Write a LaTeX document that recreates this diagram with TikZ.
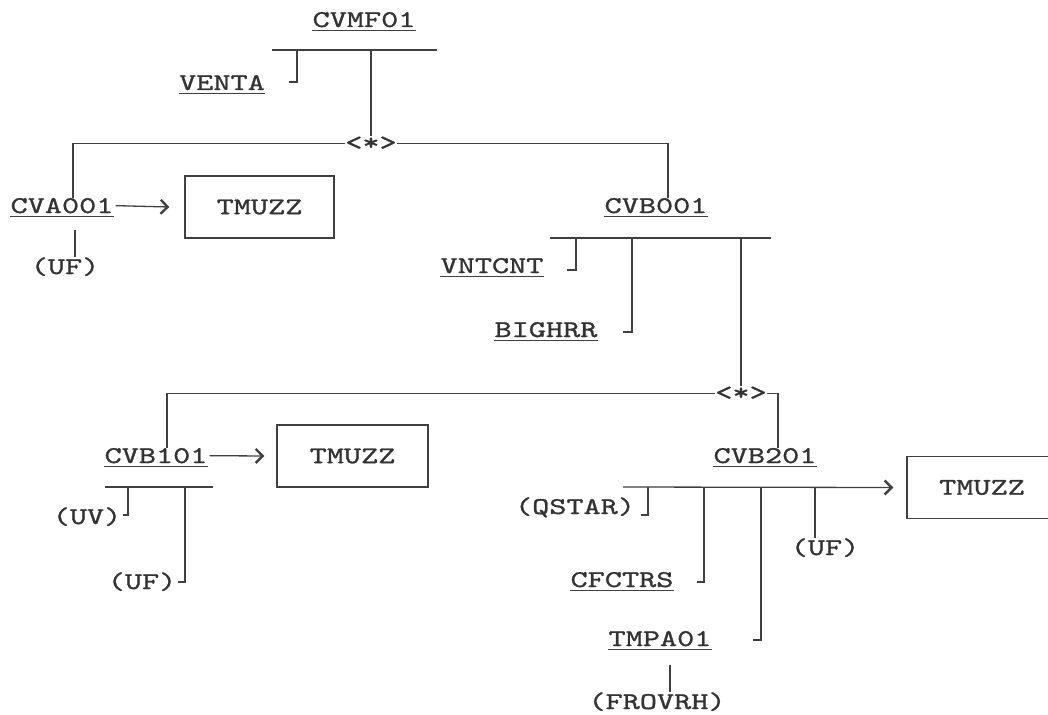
\documentclass[tikz,border=0pt]{standalone}
\usepackage{fontspec}
\newfontfamily\dotmono{lmmono10-regular.otf}[FakeStretch=1.36,FakeBold=1.1]
\usetikzlibrary{arrows.meta}
\newcommand\ulab[1]{\draw[ln] ([yshift=-3.5pt]#1.base west) -- ([yshift=-3.5pt]#1.base east);}
\begin{document}
\begin{tikzpicture}[x=1pt,y=-1pt,
  lbl/.style={inner sep=0pt, anchor=base, text=black!80, font=\dotmono\fontsize{24}{28}\selectfont},
  ln/.style={draw=black!75, line width=1.3pt},
  arr/.style={ln, -{Straight Barb[length=7pt,width=14pt,line width=2.4pt]}},
  tbox/.style={draw=black!75, line width=1.3pt, minimum height=62pt, inner sep=0pt, text=black!80, font=\dotmono\fontsize{24}{28}\selectfont}
]
\useasboundingbox (0,0) rectangle (1048,714);
\clip (0,0) rectangle (1048,714);

% labels
\node[lbl] (cvmf) at (364,27) {CVMF01};
\node[lbl] (venta) at (222,90) {VENTA};
\node[lbl] (s1) at (371,150) {<*>};
\node[lbl] (cva) at (62,213) {CVA001};
\node[tbox, minimum width=149pt] (box1) at (259.5,207) {TMUZZ};
\node[lbl] (uf1) at (65,274) {(UF)};
\node[lbl] (cvb0) at (656,213) {CVB001};
\node[lbl] (vnt) at (492,273) {VNTCNT};
\node[lbl] (big) at (546,337) {BIGHRR};
\node[lbl] (s2) at (741,400) {<*>};
\node[lbl] (cvb1) at (156,463) {CVB101};
\node[tbox, minimum width=151pt] (box2) at (352.5,456) {TMUZZ};
\node[lbl] (uv) at (87,524) {(UV)};
\node[lbl] (uf2) at (142,589) {(UF)};
\node[lbl] (cvb2) at (765,463) {CVB201};
\node[tbox, minimum width=150pt] (box3) at (982,487.5) {TMUZZ};
\node[lbl] (qs) at (575,514) {(QSTAR)};
\node[lbl] (uf3) at (825,555) {(UF)};
\node[lbl] (cfc) at (622,587) {CFCTRS};
\node[lbl] (tmpa) at (660,646) {TMPA01};
\node[lbl] (frov) at (657,709) {(FROVRH)};

\foreach \n in {cvmf,venta,cva,cvb0,vnt,big,cvb1,cvb2,cfc,tmpa} {\ulab{\n}}

% coordinates
\coordinate (b1l) at (272,50); \coordinate (b1r) at (437,50);
\coordinate (j1) at (297,50); \coordinate (h1) at (289,82);
\coordinate (j2) at (371,50);
\coordinate (b2l) at (550,238); \coordinate (b2r) at (771,238);
\coordinate (j3) at (576,238); \coordinate (h3) at (567,270);
\coordinate (j4) at (632,238); \coordinate (h4) at (623,332);
\coordinate (j5) at (741,238);
\coordinate (b3l) at (105,487); \coordinate (b3r) at (213,487);
\coordinate (j6) at (128,487); \coordinate (h6) at (123,515);
\coordinate (j7) at (185,487); \coordinate (h7) at (178,582);
\coordinate (b4l) at (623,487);
\coordinate (j8) at (648,487); \coordinate (h8) at (641,515);
\coordinate (j9) at (704,487); \coordinate (h9) at (697,582);
\coordinate (j10) at (761,487); \coordinate (h10) at (753,640);
\coordinate (j11) at (815,487);

% CVMF01 structure
\draw[ln] (b1l) -- (b1r);
\draw[ln] (j1) |- (h1);
\draw[ln] (j2) -- (s1.north);
\draw[ln] (s1.west) -| ([xshift=11pt]cva.north);
\draw[ln] (s1.east) -| ([xshift=12pt]cvb0.north);
\draw[arr] ([xshift=2pt]cva.east) -- ([xshift=-15pt]box1.west);
\draw[ln] ([xshift=13pt,yshift=-17pt]cva.south) -- ([xshift=10pt]uf1.north);

% CVB001 structure
\draw[ln] (b2l) -- (b2r);
\draw[ln] (j3) |- (h3);
\draw[ln] (j4) |- (h4);
\draw[ln] (j5) -- (s2.north);
\draw[ln] (s2.west) -| ([xshift=11pt]cvb1.north);
\draw[ln] (s2.east) -| ([xshift=13pt]cvb2.north);

% CVB101 structure
\draw[arr] ([xshift=2pt]cvb1.east) -- ([xshift=-12pt]box2.west);
\draw[ln] (b3l) -- (b3r);
\draw[ln] (j6) |- (h6);
\draw[ln] (j7) |- (h7);

% CVB201 structure
\draw[arr] (b4l) -- ([xshift=-13pt]box3.west);
\draw[ln] (j8) |- (h8);
\draw[ln] (j9) |- (h9);
\draw[ln] (j10) |- (h10);
\draw[ln] (j11) -- ([xshift=-10pt]uf3.north);
\draw[ln] ([xshift=10pt,yshift=-19pt]tmpa.south) -- ([xshift=13pt]frov.north);
\end{tikzpicture}
\end{document}
